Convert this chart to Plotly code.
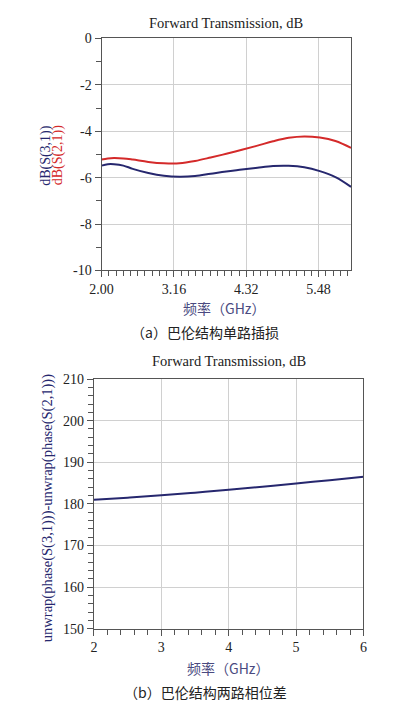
import plotly.graph_objects as go

# ---- data ----
freq_a = [2.0, 2.1, 2.2, 2.35, 2.5, 2.75, 3.0, 3.25, 3.5, 3.75, 4.0, 4.25, 4.5, 4.75, 5.0, 5.25, 5.5, 5.75, 6.0]
s21_db = [-5.22, -5.17, -5.15, -5.17, -5.22, -5.32, -5.38, -5.38, -5.28, -5.13, -4.97, -4.80, -4.62, -4.43, -4.28, -4.22, -4.27, -4.42, -4.72]
s31_db = [-5.48, -5.42, -5.42, -5.48, -5.62, -5.80, -5.92, -5.96, -5.93, -5.83, -5.73, -5.65, -5.57, -5.50, -5.49, -5.55, -5.72, -5.98, -6.40]

freq_b = [2.0, 2.5, 3.0, 3.5, 4.0, 4.5, 5.0, 5.5, 6.0]
phase_diff = [181.0, 181.5, 182.1, 182.7, 183.4, 184.1, 184.9, 185.7, 186.5]

xticks_a = [2.00, 3.16, 4.32, 5.48]
xticklabels_a = ["2.00", "3.16", "4.32", "5.48"]
yticks_a = [0, -2, -4, -6, -8, -10]
yticklabels_a = ["0", "-2", "-4", "-6", "-8", "-10"]
xticks_b = [2, 3, 4, 5, 6]
yticks_b = [150, 160, 170, 180, 190, 200, 210]

NAVY = "#26276e"
RED = "#d42a2a"
SERIF = "Liberation Serif"
CJK = "Noto Sans CJK SC"

fig = go.Figure()
fig.add_trace(go.Scatter(x=freq_a, y=s21_db, mode="lines", line=dict(color=RED, width=2, shape="spline"),
                         xaxis="x", yaxis="y", showlegend=False))
fig.add_trace(go.Scatter(x=freq_a, y=s31_db, mode="lines", line=dict(color=NAVY, width=2, shape="spline"),
                         xaxis="x", yaxis="y", showlegend=False))
fig.add_trace(go.Scatter(x=freq_b, y=phase_diff, mode="lines", line=dict(color=NAVY, width=2, shape="spline"),
                         xaxis="x2", yaxis="y2", showlegend=False))

axis_common = dict(showline=True, linecolor="#555555", linewidth=1, mirror=True,
                   showgrid=True, gridcolor="#d0d0d0", gridwidth=1,
                   ticks="outside", ticklen=6, tickcolor="#555555", zeroline=False,
                   tickfont=dict(family=SERIF, size=14, color="#222222"))

W, H = 395, 705
def px_x(p):
    return p / W
def px_y(p):
    return 1 - p / H

fig.update_layout(
    width=W, height=H,
    margin=dict(l=0, r=0, t=0, b=0),
    paper_bgcolor="white", plot_bgcolor="white",
    font=dict(family=SERIF),
    xaxis=dict(domain=[px_x(85), px_x(345)], range=[2, 6], anchor="y",
               tickvals=xticks_a, ticktext=xticklabels_a,
               minor=dict(ticks="outside", ticklen=5, tickcolor="#555555", dtick=0.116, tick0=2, showgrid=False),
               **axis_common),
    yaxis=dict(domain=[px_y(261), px_y(24)], range=[-10, 0], anchor="x",
               tickvals=yticks_a, ticktext=yticklabels_a,
               minor=dict(ticks="outside", ticklen=5, tickcolor="#555555", dtick=1, showgrid=False),
               **axis_common),
    xaxis2=dict(domain=[px_x(77), px_x(358)], range=[2, 6], anchor="y2",
                tickvals=xticks_b,
                minor=dict(ticks="outside", ticklen=5, tickcolor="#555555", dtick=0.2, showgrid=False),
                **axis_common),
    yaxis2=dict(domain=[px_y(627), px_y(372)], range=[150, 210], anchor="x2",
                tickvals=yticks_b,
                minor=dict(ticks="outside", ticklen=5, tickcolor="#555555", dtick=2, showgrid=False),
                **axis_common),
)

ann = [
    dict(text="Forward Transmission, dB", x=px_x(215), y=px_y(8), font=dict(family=SERIF, size=14.5, color="#222222")),
    dict(text="dB(S(3,1))", x=px_x(27), y=px_y(143), textangle=-90, font=dict(family=SERIF, size=14, color=NAVY)),
    dict(text="dB(S(2,1))", x=px_x(40), y=px_y(143), textangle=-90, font=dict(family=SERIF, size=14, color=RED)),
    dict(text="频率（GHz）", x=px_x(213), y=px_y(299), font=dict(family=CJK, size=14, color="#4a4a80")),
    dict(text="（a）巴伦结构单路插损", x=px_x(193), y=px_y(324), font=dict(family=CJK, size=14, color="#222222")),
    dict(text="Forward Transmission, dB", x=px_x(218), y=px_y(354), font=dict(family=SERIF, size=14.5, color="#222222")),
    dict(text="unwrap(phase(S(3,1)))-unwrap(phase(S(2,1)))", x=px_x(28), y=px_y(504), textangle=-90,
         font=dict(family=SERIF, size=14.5, color=NAVY)),
    dict(text="频率（GHz）", x=px_x(217), y=px_y(667), font=dict(family=CJK, size=14, color="#4a4a80")),
    dict(text="（b）巴伦结构两路相位差", x=px_x(193), y=px_y(692), font=dict(family=CJK, size=14, color="#222222")),
]
for a in ann:
    fig.add_annotation(xref="paper", yref="paper", showarrow=False, xanchor="center", yanchor="middle", **a)

fig.write_html("out.html")
